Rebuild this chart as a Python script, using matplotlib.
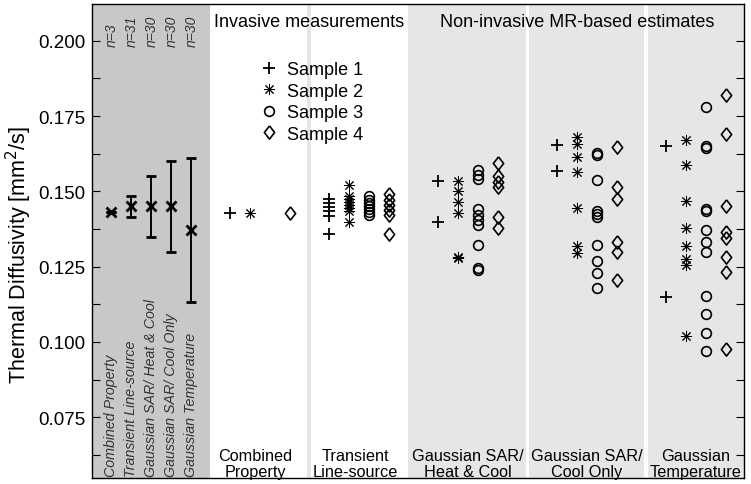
import matplotlib
matplotlib.use('Agg')
import matplotlib.pyplot as plt
from matplotlib.lines import Line2D
from matplotlib.ticker import MultipleLocator, FormatStrFormatter
from matplotlib.transforms import blended_transform_factory

plt.rcParams['font.family'] = ['Liberation Sans', 'DejaVu Sans']

# ---------------- data ----------------
method_labels = ['Combined Property', 'Transient Line-source', 'Gaussian SAR/ Heat & Cool',
                 'Gaussian SAR/ Cool Only', 'Gaussian Temperature']
bottom_labels = ['Combined\nProperty', 'Transient\nLine-source', 'Gaussian SAR/\nHeat & Cool',
                 'Gaussian SAR/\nCool Only', 'Gaussian\nTemperature']
n_labels = ['n=3', 'n=31', 'n=30', 'n=30', 'n=30']
summary_mean = [0.1430, 0.1450, 0.1450, 0.1450, 0.1372]
summary_err = [0.0, 0.0034, 0.0102, 0.0150, 0.0240]
sample_labels = ['Sample 1', 'Sample 2', 'Sample 3', 'Sample 4']

combined = [[0.1428], [0.1428], [], [0.1428]]
transient = [[0.1474, 0.1460, 0.1447, 0.1434, 0.1417, 0.1358],
             [0.1522, 0.1485, 0.1474, 0.1464, 0.1454, 0.1444, 0.1436, 0.1399],
             [0.1485, 0.1472, 0.1460, 0.1450, 0.1440, 0.1430, 0.1420],
             [0.1491, 0.1471, 0.1454, 0.1438, 0.1421, 0.1358]]
sar_heat_cool = [[0.1533, 0.1399],
                 [0.1533, 0.1500, 0.1466, 0.1428, 0.1281, 0.1278],
                 [0.1571, 0.1554, 0.1541, 0.1441, 0.1421, 0.1405, 0.1388, 0.1322, 0.1244, 0.1240],
                 [0.1593, 0.1551, 0.1531, 0.1514, 0.1414, 0.1378]]
sar_cool_only = [[0.1654, 0.1566],
                 [0.1679, 0.1657, 0.1613, 0.1563, 0.1444, 0.1317, 0.1295],
                 [0.1626, 0.1620, 0.1538, 0.1436, 0.1426, 0.1416, 0.1322, 0.1269, 0.1229, 0.1179],
                 [0.1646, 0.1513, 0.1474, 0.1331, 0.1298, 0.1207]]
temperature = [[0.1650, 0.1148],
               [0.1670, 0.1588, 0.1467, 0.1377, 0.1317, 0.1275, 0.1256, 0.1021],
               [0.1780, 0.1650, 0.1645, 0.1441, 0.1436, 0.1373, 0.1331, 0.1300, 0.1153, 0.1093, 0.1030, 0.0969],
               [0.1820, 0.1690, 0.1450, 0.1365, 0.1345, 0.1281, 0.1231, 0.0976]]
methods_data = [combined, transient, sar_heat_cool, sar_cool_only, temperature]

# ---------------- layout (pixel-like x coordinates) ----------------
summary_x = [111, 131, 151, 171, 191]
panel_centers = [259.5, 359, 468, 587, 696]
col_offsets = [-30, -10, 10, 30]

diamond = [(0, 1), (0.78, 0), (0, -1), (-0.78, 0), (0, 1)]
marker_styles = [
    dict(marker='+', ms=8, mew=1.3, mfc='none'),
    dict(marker=(8, 2, 0), ms=8, mew=0.7, mfc='none'),
    dict(marker='o', ms=7, mew=1.2, mfc='none'),
    dict(marker=diamond, ms=9.5, mew=1.2, mfc='none'),
]

fig = plt.figure(figsize=(7.51, 4.85), dpi=100)
ax = fig.add_axes([92 / 751, 6 / 485, (744 - 92) / 751, (479 - 5) / 485])
ax.set_xlim(92, 744)
ax.set_ylim(0.0548, 0.2122)
ax.set_facecolor('white')

# panel backgrounds
ax.axvspan(92, 210, color='#c8c8c8', lw=0, zorder=0)
ax.axvspan(307, 311, color='#e6e6e6', lw=0, zorder=0)
ax.axvspan(408, 526, color='#e6e6e6', lw=0, zorder=0)
ax.axvspan(529, 644, color='#e6e6e6', lw=0, zorder=0)
ax.axvspan(648, 744, color='#e6e6e6', lw=0, zorder=0)

# summary error bars
ax.errorbar(summary_x, summary_mean, yerr=summary_err, fmt='x', color='k', ms=7, mew=2,
            capsize=3.6, elinewidth=1.4, capthick=1.4, zorder=3)

# individual samples
for mi, mdata in enumerate(methods_data):
    for si, vals in enumerate(mdata):
        if not vals:
            continue
        xs = [panel_centers[mi] + col_offsets[si]] * len(vals)
        ax.plot(xs, vals, ls='none', color='k', zorder=3, **marker_styles[si])

# legend
handles = [Line2D([], [], ls='none', color='k', **marker_styles[i]) for i in range(4)]
ax.legend(handles, sample_labels, loc='upper left',
          bbox_to_anchor=((262 - 92) / 652, (479 - 62) / 474),
          frameon=False, fontsize=13, handlelength=0.8, handletextpad=0.6,
          labelspacing=0.25, borderpad=0, borderaxespad=0)

trans = blended_transform_factory(ax.transData, ax.transAxes)

# n labels and rotated method labels in the summary panel
for i in range(5):
    ax.text(summary_x[i] + 1, 0.912, n_labels[i], transform=trans, rotation=90,
            ha='center', va='bottom', fontsize=10, style='italic', color='#333333')
    ax.text(summary_x[i], 0.005, method_labels[i], transform=trans, rotation=90,
            ha='center', va='bottom', fontsize=10.3, style='italic', color='#333333')

# bottom category labels
for i in range(5):
    ax.text(panel_centers[i] - (4 if i < 2 else 0), -0.002, bottom_labels[i], transform=trans,
            ha='center', va='bottom', fontsize=11.7, linespacing=1.08)

# headings
ax.text(309.5, 0.964, 'Invasive measurements', transform=trans, ha='center', va='center', fontsize=13)
ax.text(577.5, 0.964, 'Non-invasive MR-based estimates', transform=trans, ha='center', va='center', fontsize=13)

# axes styling
ax.set_xticks([])
ax.yaxis.set_major_locator(MultipleLocator(0.025))
ax.yaxis.set_minor_locator(MultipleLocator(0.0125))
ax.yaxis.set_major_formatter(FormatStrFormatter('%.3f'))
ax.tick_params(axis='y', which='both', direction='in', length=6, width=0.8,
               left=True, right=True, labelsize=13.5, pad=5)
for s in ax.spines.values():
    s.set_linewidth(1.0)
    s.set_zorder(5)

fig.text(19 / 751, 1 - 255 / 485, 'Thermal Diffusivity [mm$^2$/s]', rotation=90,
         ha='center', va='center', fontsize=15.5)

fig.savefig('out.png', dpi=100)
